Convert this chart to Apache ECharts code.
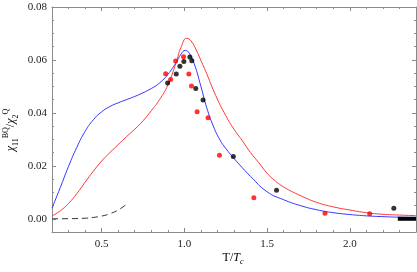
<!DOCTYPE html>
<html><head><meta charset="utf-8">
<script src="https://cdn.jsdelivr.net/npm/echarts@6/dist/echarts.min.js"></script>
<style>html,body{margin:0;padding:0;background:#fff}#c{width:417px;height:272px}</style>
</head><body><div id="c"></div>
<script>
var blueCurve = [[0.2,0.0040],[0.25,0.0118],[0.3,0.0198],[0.35,0.0270],[0.4,0.0330],[0.45,0.0374],[0.5,0.0404],[0.55,0.0424],[0.6,0.0438],[0.65,0.0450],[0.7,0.0462],[0.75,0.0476],[0.8,0.0492],[0.85,0.0513],[0.9,0.0545],[0.95,0.0590],[0.98,0.0622],[1.005,0.0636],[1.03,0.0625],[1.06,0.0585],[1.1,0.0500],[1.135,0.0420],[1.175,0.0350],[1.215,0.0298],[1.25,0.0266],[1.3,0.0228],[1.35,0.0193],[1.4,0.0160],[1.5,0.0102],[1.6,0.0072],[1.7,0.0050],[1.8,0.0034],[1.9,0.0023],[2.0,0.0016],[2.1,0.0011],[2.2,0.0008],[2.3,0.0006],[2.4,0.0005]];
var redCurve = [[0.2,0.0011],[0.25,0.0030],[0.3,0.0058],[0.35,0.0095],[0.4,0.0138],[0.45,0.0180],[0.5,0.0218],[0.55,0.0250],[0.6,0.0280],[0.65,0.0310],[0.7,0.0338],[0.75,0.0370],[0.8,0.0408],[0.85,0.0450],[0.9,0.0505],[0.95,0.0590],[0.98,0.0648],[1.015,0.0682],[1.04,0.0672],[1.07,0.0640],[1.1,0.0598],[1.135,0.0548],[1.19,0.0465],[1.25,0.0390],[1.3,0.0338],[1.35,0.0295],[1.4,0.0250],[1.45,0.0212],[1.5,0.0172],[1.55,0.0143],[1.6,0.0120],[1.7,0.0088],[1.8,0.0062],[1.9,0.0045],[2.0,0.0033],[2.1,0.0023],[2.2,0.0017],[2.3,0.0014],[2.4,0.0012]];
var dashedCurve = [[0.2,0.0],[0.3,0.00003],[0.4,0.0002],[0.45,0.0005],[0.5,0.0010],[0.55,0.0019],[0.6,0.0033],[0.65,0.0054]];
var limitBar = [[2.29,0.0],[2.4,0.0]];
var redPoints = [[0.887,0.0548],[0.917,0.0526],[0.947,0.0596],[0.995,0.0612],[1.027,0.0547],[1.043,0.0502],[1.077,0.0404],[1.143,0.0382],[1.212,0.0240],[1.42,0.0079],[1.85,0.0021],[2.12,0.0019]];
var blackPoints = [[0.899,0.0513],[0.951,0.0547],[0.973,0.0576],[0.997,0.0594],[1.033,0.0611],[1.045,0.0597],[1.069,0.0492],[1.113,0.0449],[1.296,0.0235],[1.557,0.0108],[2.266,0.0040]];
var xTickLabels = [0.5,1.0,1.5,2.0];
var yTickLabels = [0.00,0.02,0.04,0.06,0.08];

var axisGrey = '#8a8a8a';
var font = 'Liberation Serif';
function xAx(pos, major, labels){
  return {type:'value', min:0.2, max:2.4, interval:0.1, position:pos,
    axisLine:{show:major, onZero:false, lineStyle:{color:axisGrey, width:1}},
    axisTick:major ? {show:true, inside:true, length:4, customValues:xTickLabels, lineStyle:{color:axisGrey}}
                   : {show:true, inside:true, length:2, lineStyle:{color:axisGrey}},
    axisLabel:labels ? {show:true, customValues:xTickLabels, formatter:function(v){return v.toFixed(1);}, fontFamily:font, fontSize:11, color:'#222', margin:7}
                     : {show:false},
    splitLine:{show:false}};
}
function yAx(pos, major, labels){
  return {type:'value', min:-0.005, max:0.08, interval:0.005, position:pos,
    axisLine:{show:major, onZero:false, lineStyle:{color:axisGrey, width:1}},
    axisTick:major ? {show:true, inside:true, length:4, customValues:yTickLabels, lineStyle:{color:axisGrey}}
                   : {show:true, inside:true, length:2, lineStyle:{color:axisGrey}},
    axisLabel:labels ? {show:true, customValues:yTickLabels, formatter:function(v){return v.toFixed(2);}, fontFamily:font, fontSize:11, color:'#222', margin:5}
                     : {show:false},
    splitLine:{show:false}};
}
var chart = echarts.init(document.getElementById('c'), null, {renderer:'canvas'});
chart.setOption({
  animation:false,
  backgroundColor:'#fff',
  grid:{left:52, right:1, top:7, bottom:40},
  xAxis:[xAx('bottom',true,true), xAx('bottom',false,false), xAx('top',true,false), xAx('top',false,false)],
  yAxis:[yAx('left',true,true), yAx('left',false,false), yAx('right',true,false), yAx('right',false,false)],
  series:[
    {type:'line', data:blueCurve, smooth:0.5, showSymbol:false, lineStyle:{color:'#3535ff', width:1}, z:3},
    {type:'line', data:redCurve, smooth:0.5, showSymbol:false, lineStyle:{color:'#ff3535', width:1}, z:3},
    {type:'line', data:dashedCurve, smooth:0.4, showSymbol:false, lineStyle:{color:'#333', width:1, type:[6,4]}, z:3},
    {type:'line', data:limitBar, showSymbol:false, lineStyle:{color:'#000', width:4}, z:3},
    {type:'scatter', data:redPoints, symbolSize:5, itemStyle:{color:'#ff0000'}, z:4},
    {type:'scatter', data:blackPoints, symbolSize:5, itemStyle:{color:'#000'}, z:4}
  ],
  graphic:[
    {type:'text', x:233, y:258, style:{text:'{n|T/}{i|T}{s|c}', align:'center', verticalAlign:'middle',
      rich:{n:{fontFamily:font,fontSize:12,color:'#222',lineHeight:16,verticalAlign:'middle'},
            i:{fontFamily:font,fontSize:12,fontStyle:'italic',color:'#222',lineHeight:16,verticalAlign:'middle'},
            s:{fontFamily:font,fontSize:8,fontStyle:'italic',color:'#222',lineHeight:16,verticalAlign:'bottom'}}}},
    {type:'text', x:11, y:130, rotation:Math.PI/2, style:{text:'{c|χ}{s|11}{p|BQ}{n|/}{c|χ}{s|2}{p|Q}', align:'center', verticalAlign:'middle',
      rich:{c:{fontFamily:font,fontSize:12,fontStyle:'italic',color:'#222',lineHeight:18,verticalAlign:'middle'},
            n:{fontFamily:font,fontSize:12,color:'#222',lineHeight:18,verticalAlign:'middle'},
            s:{fontFamily:font,fontSize:8,color:'#222',lineHeight:18,verticalAlign:'bottom'},
            p:{fontFamily:font,fontSize:8,color:'#222',lineHeight:18,verticalAlign:'top'}}}}
  ]
});
</script></body></html>
